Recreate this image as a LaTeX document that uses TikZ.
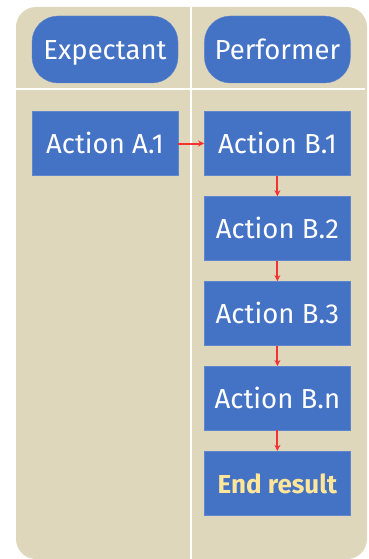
\documentclass[tikz,border=0pt]{standalone}
\usepackage{fontspec}
\setmainfont{Fira Sans}
\usetikzlibrary{positioning}
\usetikzlibrary{arrows.meta}
\definecolor{lanebg}{RGB}{222,215,187}
\definecolor{boxblue}{RGB}{68,114,196}
\definecolor{arrowred}{RGB}{245,50,50}
\definecolor{resultyellow}{RGB}{255,230,153}
\tikzset{
    % A small filled head, as the reference draws them
    >={Stealth[length=6pt, width=6pt]},
%
    % The beige area behind both swimlanes
    lane fill/.style={fill=lanebg, rounded corners=20pt},
%
    % Thin white lines splitting the lanes
    lane split/.style={draw=white, line width=1.4pt},
%
    % Pill shaped title of a lane
    lane head/.style={
        draw=boxblue!85!white, fill=boxblue, rounded corners=26pt,
        minimum width=146pt, minimum height=67pt, inner sep=0,
        text height=20pt, text depth=0pt,
        text=white, font=\fontsize{27.5}{32}\selectfont},
%
    % A plain step in the flow
    action box/.style={
        draw=boxblue!85!white, fill=boxblue, rectangle,
        minimum width=146pt, minimum height=64pt, inner sep=0,
        text height=20pt, text depth=0pt,
        text=white, font=\fontsize{27.5}{32}\selectfont},
%
    % The last step, picked out in yellow
    result box/.style={action box, text=resultyellow,
        font=\fontsize{26}{30}\selectfont\bfseries},
%
    % Small red connectors
    flow arrow/.style={draw=arrowred, ->, line width=2pt}}

\begin{document}
\begin{tikzpicture}[x=1pt, y=1pt]

% Swimlane background

\useasboundingbox (0,0) rectangle (369,-559);

\path [lane fill] (16,-7) rectangle (367,-559);
\path [lane split] (191,-7) -- (191,-559);
\path [lane split] (16,-89) -- (365,-89);

% Lane titles

\node [lane head] (expectant) at (105,-49.5) {Expectant};
\node [lane head, right=26pt of expectant] (performer) {Performer};

% Steps

\node [action box] (a1) at (105,-143.5) {Action A.1};
\node [action box, right=26pt of a1] (b1) {Action B.1};
\node [action box, below=20.5pt of b1] (b2) {Action B.2};
\node [action box, below=20.5pt of b2] (b3) {Action B.3};
\node [action box, below=20.5pt of b3] (bn) {Action B.n};
\node [result box, below=20.5pt of bn] (result) {End result};

\draw [flow arrow] (a1) -- (b1);
\draw [flow arrow] (b1) -- (b2);
\draw [flow arrow] (b2) -- (b3);
\draw [flow arrow] (b3) -- (bn);
\draw [flow arrow] (bn) -- (result);

\end{tikzpicture}
\end{document}
